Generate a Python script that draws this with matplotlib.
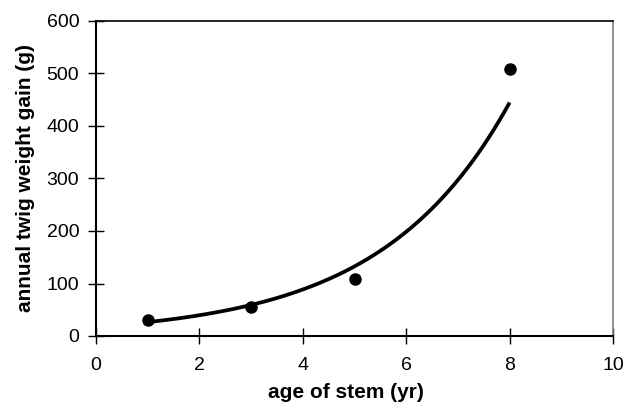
import matplotlib
matplotlib.use('Agg')

import matplotlib.pyplot as plt
import numpy as np

# data
age = [1, 3, 5, 8]
weight_gain = [30, 56, 108, 508]

x_ticks = [0, 2, 4, 6, 8, 10]
y_ticks = [0, 100, 200, 300, 400, 500, 600]

plt.rcParams['font.family'] = ['Liberation Sans', 'DejaVu Sans']

# exponential trendline (least squares on log y, like Excel)
b, ln_a = np.polyfit(age, np.log(weight_gain), 1)
xs = np.linspace(min(age), max(age), 200)
ys = np.exp(ln_a) * np.exp(b * xs)

fig = plt.figure(figsize=(6.26, 4.08), dpi=100)
ax = fig.add_axes([96 / 626, 1 - 336 / 408, (613 - 96) / 626, (336 - 21) / 408])

ax.plot(xs, ys, color='black', linewidth=2.7, solid_capstyle='butt')
ax.plot(age, weight_gain, 'o', color='black', markersize=8)

ax.set_xlim(0, 10)
ax.set_ylim(0, 600)
ax.set_xticks(x_ticks)
ax.set_yticks(y_ticks)
ax.tick_params(direction='inout', length=12, width=1, labelsize=14)
ax.tick_params(axis='x', pad=9)
ax.tick_params(axis='y', pad=6)

for side in ['left', 'bottom']:
    ax.spines[side].set_linewidth(1.5)
    ax.spines[side].set_color('black')
ax.spines['top'].set_linewidth(1.2)
ax.spines['right'].set_color('#808080')
ax.spines['right'].set_linewidth(1.2)

ax.set_xlabel('age of stem (yr)', fontsize=15, fontweight='bold')
ax.set_ylabel('annual twig weight gain (g)', fontsize=15, fontweight='bold', labelpad=8)
ax.xaxis.set_label_coords(0.483, -0.15)

plt.savefig('out.png', dpi=100)
plt.close()
